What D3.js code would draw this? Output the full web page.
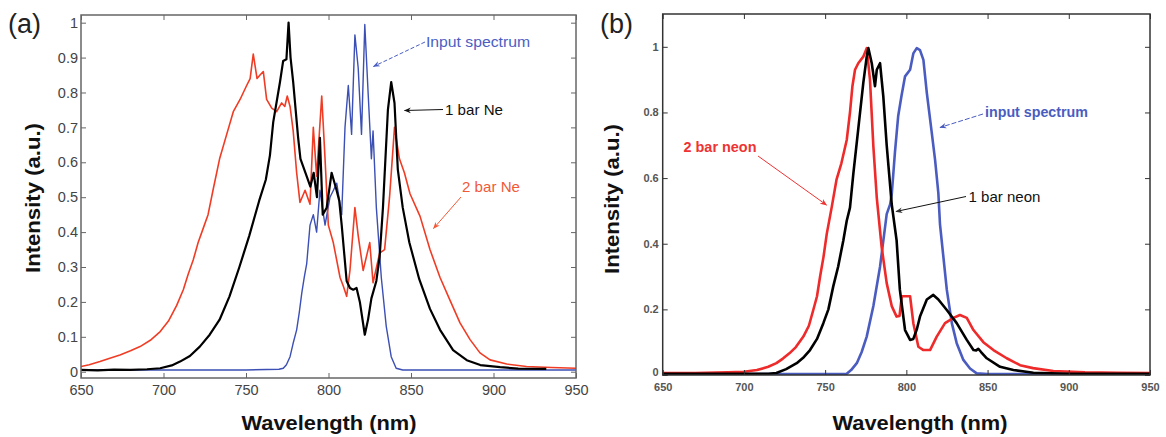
<!DOCTYPE html>
<html>
<head>
<meta charset="utf-8">
<script src="https://cdn.jsdelivr.net/npm/d3@7"></script>
<style>
  html, body { margin: 0; padding: 0; background: #fff; }
  svg { display: block; font-family: "Liberation Sans", Arial, Helvetica, sans-serif; }
</style>
</head>
<body>
<svg id="chart" width="1166" height="437"></svg>
<script>
// ---------- shared ticks ----------
const xTicks = [650, 700, 750, 800, 850, 900, 950];
const xTickLabels = ["650", "700", "750", "800", "850", "900", "950"];
const aYTicks = [0, 0.1, 0.2, 0.3, 0.4, 0.5, 0.6, 0.7, 0.8, 0.9, 1];
const aYTickLabels = ["0", "0.1", "0.2", "0.3", "0.4", "0.5", "0.6", "0.7", "0.8", "0.9", "1"];
const bYTicks = [0, 0.2, 0.4, 0.6, 0.8, 1];
const bYTickLabels = ["0", "0.2", "0.4", "0.6", "0.8", "1"];

// ---------- panel (a) data ----------
const aBlackWl = [650, 660, 670, 680, 690, 698, 705, 710, 716, 722, 728, 734, 740, 746, 752, 758, 762, 764.5, 766.5, 770.6, 772.5, 774.5, 775.8, 777, 778.6, 781.6, 783, 786.8, 789, 791, 793, 794.8, 796.5, 798.9, 801.9, 804.9, 806.5, 808, 811, 813, 815, 817, 819, 822, 824, 826, 829, 831, 833, 836, 838, 840, 842, 845, 849, 855, 861.5, 867.6, 875.5, 883.8, 892, 904, 915, 932];
const aBlackI  = [0.005, 0.004, 0.006, 0.005, 0.007, 0.01, 0.018, 0.029, 0.045, 0.072, 0.106, 0.149, 0.216, 0.30, 0.39, 0.49, 0.55, 0.62, 0.715, 0.83, 0.89, 0.895, 1.0, 0.9, 0.83, 0.67, 0.61, 0.56, 0.53, 0.57, 0.50, 0.67, 0.45, 0.47, 0.57, 0.52, 0.49, 0.42, 0.26, 0.24, 0.235, 0.24, 0.20, 0.106, 0.15, 0.21, 0.26, 0.33, 0.47, 0.75, 0.83, 0.77, 0.58, 0.47, 0.37, 0.265, 0.18, 0.12, 0.062, 0.033, 0.019, 0.013, 0.009, 0.008];

const aRedWl = [650, 655, 661.5, 667, 673.6, 680, 685.8, 692, 698, 703, 708, 712, 715, 718, 721, 724, 727, 730, 734, 738.3, 742.3, 746.4, 750.4, 752.5, 754.4, 756.7, 758.5, 760.5, 762.5, 765.6, 768.6, 771.6, 773.5, 775, 776.7, 778.6, 780.7, 782.7, 785.8, 788.8, 790.8, 792.8, 795.9, 797.9, 799.9, 802.9, 807, 809, 811, 813, 816, 818, 821, 825, 827, 831, 834, 837, 840, 843, 846, 849.4, 855.5, 861.5, 867.6, 873.6, 879.7, 885.8, 891.8, 897.9, 908, 920, 935, 950];
const aRedI  = [0.015, 0.02, 0.029, 0.038, 0.048, 0.06, 0.072, 0.09, 0.115, 0.145, 0.19, 0.235, 0.28, 0.32, 0.37, 0.41, 0.45, 0.52, 0.61, 0.68, 0.745, 0.78, 0.82, 0.84, 0.91, 0.84, 0.85, 0.86, 0.78, 0.755, 0.745, 0.77, 0.76, 0.79, 0.76, 0.69, 0.57, 0.485, 0.52, 0.48, 0.70, 0.56, 0.79, 0.61, 0.42, 0.37, 0.27, 0.245, 0.216, 0.29, 0.47, 0.39, 0.29, 0.37, 0.255, 0.34, 0.35, 0.50, 0.70, 0.61, 0.57, 0.51, 0.445, 0.35, 0.27, 0.205, 0.14, 0.092, 0.054, 0.034, 0.022, 0.015, 0.012, 0.01];

const aBlueWl = [650, 700, 750, 770, 772.6, 774.5, 776.7, 778.5, 780.7, 782.3, 783.8, 785.3, 786.8, 788.8, 790.8, 792.8, 794.8, 796.3, 797.9, 800.9, 803, 805, 808, 810, 812, 814, 816, 818, 820, 822, 824, 826, 827, 829, 832, 835, 838, 841, 845, 900, 950];
const aBlueI  = [0.005, 0.005, 0.005, 0.007, 0.01, 0.02, 0.043, 0.08, 0.12, 0.17, 0.225, 0.27, 0.31, 0.42, 0.45, 0.40, 0.52, 0.47, 0.42, 0.50, 0.52, 0.54, 0.45, 0.70, 0.82, 0.68, 0.965, 0.87, 0.68, 0.995, 0.80, 0.61, 0.69, 0.47, 0.27, 0.13, 0.043, 0.01, 0.005, 0.005, 0.005];

// ---------- panel (b) data ----------
const bRedWl = [650, 670, 690, 700, 708, 715, 720, 724, 728, 732, 736.6, 740, 742.7, 745, 746.9, 749, 751, 754, 757, 760, 763.3, 765.3, 766.8, 768.4, 770.4, 773.5, 775.6, 777.6, 779.7, 781.8, 784.8, 787.9, 791, 794, 795.8, 797.2, 800, 802.3, 804.3, 807.4, 810.5, 814.6, 818.7, 823.8, 829, 833, 837.2, 841.3, 847.4, 853.6, 861.8, 870, 878, 890.5, 910, 930, 950];
const bRedI  = [0.006, 0.006, 0.008, 0.01, 0.015, 0.025, 0.036, 0.05, 0.066, 0.085, 0.117, 0.15, 0.198, 0.24, 0.30, 0.36, 0.43, 0.51, 0.595, 0.645, 0.716, 0.80, 0.88, 0.93, 0.95, 0.97, 0.996, 0.90, 0.696, 0.54, 0.39, 0.28, 0.21, 0.178, 0.18, 0.24, 0.24, 0.24, 0.158, 0.086, 0.076, 0.076, 0.117, 0.158, 0.174, 0.183, 0.174, 0.137, 0.10, 0.076, 0.051, 0.03, 0.021, 0.012, 0.008, 0.007, 0.006];

const bBlackWl = [650, 680, 700, 715, 720, 726, 732.5, 737, 740.7, 745, 748.9, 752, 755, 758, 761.2, 763.3, 765.3, 767.4, 770.4, 773.5, 775.6, 776.6, 778.7, 780.7, 781.8, 783.8, 785.8, 787.9, 791, 794, 796, 799.2, 802.3, 804.3, 806.5, 808.4, 812.6, 816.6, 819.7, 824.9, 831, 837.2, 841.3, 843, 844.3, 846, 849.5, 857.7, 865.9, 878.2, 900, 950];
const bBlackI  = [0.004, 0.004, 0.004, 0.004, 0.006, 0.018, 0.036, 0.055, 0.076, 0.11, 0.158, 0.2, 0.27, 0.33, 0.41, 0.47, 0.51, 0.615, 0.75, 0.89, 0.97, 0.996, 0.95, 0.88, 0.93, 0.95, 0.85, 0.70, 0.52, 0.41, 0.26, 0.137, 0.107, 0.11, 0.14, 0.178, 0.23, 0.244, 0.23, 0.198, 0.158, 0.107, 0.076, 0.075, 0.08, 0.07, 0.051, 0.025, 0.015, 0.007, 0.004, 0.004];

const bBlueWl = [650, 700, 750, 763.3, 766, 769.5, 772.5, 775.6, 779.7, 783.8, 787.9, 790, 791, 793, 795, 797, 799.2, 802.3, 804.3, 806.4, 808.4, 810.5, 812.6, 815.6, 817.7, 819.7, 820.7, 822.8, 824.9, 828, 831, 835.1, 839.2, 843.3, 850, 900, 950];
const bBlueI  = [0.003, 0.003, 0.003, 0.004, 0.015, 0.036, 0.07, 0.117, 0.21, 0.33, 0.49, 0.52, 0.55, 0.68, 0.79, 0.85, 0.91, 0.93, 0.98, 0.996, 0.99, 0.96, 0.86, 0.74, 0.655, 0.554, 0.46, 0.36, 0.26, 0.158, 0.097, 0.046, 0.02, 0.005, 0.003, 0.003, 0.003];

// ---------- drawing ----------
const svg = d3.select("#chart");
svg.append("rect").attr("width", 1166).attr("height", 437).attr("fill", "#fff");
const defs = svg.append("defs");

function marker(id, color) {
  defs.append("marker").attr("id", id)
    .attr("viewBox", "0 0 10 10").attr("refX", 9).attr("refY", 5)
    .attr("markerWidth", 7).attr("markerHeight", 7).attr("markerUnits", "userSpaceOnUse")
    .attr("orient", "auto")
    .append("path").attr("d", "M0,1 L10,5 L0,9 L3,5 Z").attr("fill", color);
}

function zip(w, v) { return w.map((d, i) => [d, v[i]]); }

function panel(cfg) {
  const x = d3.scaleLinear().domain([650, 950]).range([cfg.left, cfg.right]);
  const y = d3.scaleLinear().domain(cfg.yDomain).range([cfg.bottom, cfg.top]);
  const g = svg.append("g");

  const clipId = "clip" + cfg.id;
  defs.append("clipPath").attr("id", clipId).append("rect")
    .attr("x", cfg.left).attr("y", cfg.top)
    .attr("width", cfg.right - cfg.left).attr("height", cfg.bottom - cfg.top);

  const line = d3.line().x(d => x(d[0])).y(d => y(d[1]));
  const lines = g.append("g").attr("clip-path", `url(#${clipId})`);
  cfg.series.forEach(s => {
    lines.append("path").datum(zip(s.wl, s.v))
      .attr("d", line).attr("fill", "none")
      .attr("stroke", s.color).attr("stroke-width", s.width)
      .attr("stroke-linejoin", "round");
  });

  // axes (inward ticks on all sides)
  const xb = g.append("g").attr("transform", `translate(0,${cfg.bottom})`)
    .call(d3.axisBottom(x).tickValues(xTicks).tickFormat((d, i) => xTickLabels[i])
      .tickSize(-5).tickPadding(cfg.xPad));
  const yl = g.append("g").attr("transform", `translate(${cfg.left},0)`)
    .call(d3.axisLeft(y).tickValues(cfg.yTicks).tickFormat((d, i) => cfg.yLabels[i])
      .tickSize(-5).tickPadding(cfg.yPad));
  const xt = g.append("g").attr("transform", `translate(0,${cfg.top})`)
    .call(d3.axisTop(x).tickValues(xTicks).tickFormat("").tickSize(-5));
  const yr = g.append("g").attr("transform", `translate(${cfg.right},0)`)
    .call(d3.axisRight(y).tickValues(cfg.yTicks).tickFormat("").tickSize(-5));
  [xb, yl, xt, yr].forEach(a => {
    a.select(".domain").remove();
    a.selectAll(".tick line").attr("stroke", cfg.frame).attr("stroke-width", 1);
    a.selectAll(".tick text").attr("fill", cfg.tickColor)
      .style("font-size", cfg.tickSize + "px").style("font-weight", cfg.tickWeight);
  });
  // lift the zero label slightly so it clears the first x label
  yl.selectAll(".tick text").filter(d => d === 0).attr("dy", cfg.zeroDy);

  g.append("rect").attr("x", cfg.left).attr("y", cfg.top)
    .attr("width", cfg.right - cfg.left).attr("height", cfg.bottom - cfg.top)
    .attr("fill", "none").attr("stroke", cfg.frame).attr("stroke-width", 1.5);

  // titles
  g.append("text").attr("transform", `translate(${cfg.yTitleX},${cfg.yTitleY}) rotate(-90)`)
    .attr("text-anchor", "middle").style("font-size", "20px").style("font-weight", "bold")
    .attr("textLength", 150).attr("lengthAdjust", "spacingAndGlyphs")
    .attr("fill", "#111").text("Intensity (a.u.)");
  g.append("text").attr("x", cfg.xTitleX).attr("y", 430)
    .attr("text-anchor", "middle").style("font-size", "21px").style("font-weight", "bold")
    .attr("textLength", 175).attr("lengthAdjust", "spacingAndGlyphs")
    .attr("fill", "#111").text("Wavelength (nm)");
  g.append("text").attr("x", cfg.labelX).attr("y", 33)
    .style("font-size", "27px").attr("fill", "#222").text(cfg.label);

  // annotations
  cfg.notes.forEach(n => {
    g.append("text").attr("x", n.tx).attr("y", n.ty).attr("fill", n.color)
      .style("font-size", n.size + "px").style("font-weight", n.weight)
      .attr("textLength", n.len).attr("lengthAdjust", "spacingAndGlyphs").text(n.text);
    g.append("line").attr("x1", n.x1).attr("y1", n.y1).attr("x2", n.x2).attr("y2", n.y2)
      .attr("stroke", n.color).attr("stroke-width", 1)
      .attr("stroke-dasharray", n.dash || null)
      .attr("marker-end", `url(#${n.marker})`);
  });
}

marker("mBlueA", "#4a5ec4");
marker("mBlackA", "#111");
marker("mRedA", "#f05a38");
marker("mRedB", "#ee3333");
marker("mBlueB", "#4a5cc0");
marker("mBlackB", "#333");

panel({
  id: "a", left: 81, right: 576, top: 15, bottom: 378, yDomain: [-0.018, 1.022],
  yTicks: aYTicks, yLabels: aYTickLabels, frame: "#666", tickColor: "#444",
  tickSize: 14.5, tickWeight: "normal", xPad: 7, yPad: 3, zeroDy: "0.32em",
  yTitleX: 40, yTitleY: 198, xTitleX: 329, label: "(a)", labelX: 8,
  series: [
    { wl: aBlueWl, v: aBlueI, color: "#3b4fb4", width: 1.4 },
    { wl: aRedWl, v: aRedI, color: "#f03c24", width: 1.6 },
    { wl: aBlackWl, v: aBlackI, color: "#000", width: 2.2 }
  ],
  notes: [
    { text: "Input spectrum", tx: 426, ty: 46.5, size: 15.5, weight: "normal", len: 104, color: "#4a5ec4",
      x1: 425, y1: 42, x2: 373.5, y2: 66.5, marker: "mBlueA", dash: "4,2" },
    { text: "1 bar Ne", tx: 445, ty: 115, size: 15, weight: "normal", len: 58, color: "#111",
      x1: 443, y1: 109.5, x2: 404.5, y2: 110.5, marker: "mBlackA" },
    { text: "2 bar Ne", tx: 462, ty: 191.5, size: 15, weight: "normal", len: 58, color: "#f05a38",
      x1: 461, y1: 197, x2: 433.5, y2: 228.5, marker: "mRedA" }
  ]
});

panel({
  id: "b", left: 662.7, right: 1150, top: 14, bottom: 375, yDomain: [0, 1.1],
  yTicks: bYTicks, yLabels: bYTickLabels, frame: "#333", tickColor: "#555",
  tickSize: 11, tickWeight: "bold", xPad: 8, yPad: 4, zeroDy: "0.05em",
  yTitleX: 619, yTitleY: 199, xTitleX: 920, label: "(b)", labelX: 600,
  series: [
    { wl: bBlueWl, v: bBlueI, color: "#4a5cc0", width: 2.6 },
    { wl: bRedWl, v: bRedI, color: "#ee2a2a", width: 2.6 },
    { wl: bBlackWl, v: bBlackI, color: "#000", width: 2.6 }
  ],
  notes: [
    { text: "2 bar neon", tx: 683.5, ty: 152, size: 14, weight: "bold", len: 73, color: "#ee3333",
      x1: 758, y1: 156, x2: 826.5, y2: 205, marker: "mRedB" },
    { text: "input spectrum", tx: 985, ty: 117, size: 14, weight: "bold", len: 103, color: "#4a5cc0",
      x1: 983, y1: 114, x2: 940, y2: 127.5, marker: "mBlueB", dash: "5,2" },
    { text: "1 bar neon", tx: 968.5, ty: 201.5, size: 14.5, weight: "normal", len: 72, color: "#111",
      x1: 966, y1: 196.5, x2: 896, y2: 211.5, marker: "mBlackB" }
  ]
});
</script>
</body>
</html>
